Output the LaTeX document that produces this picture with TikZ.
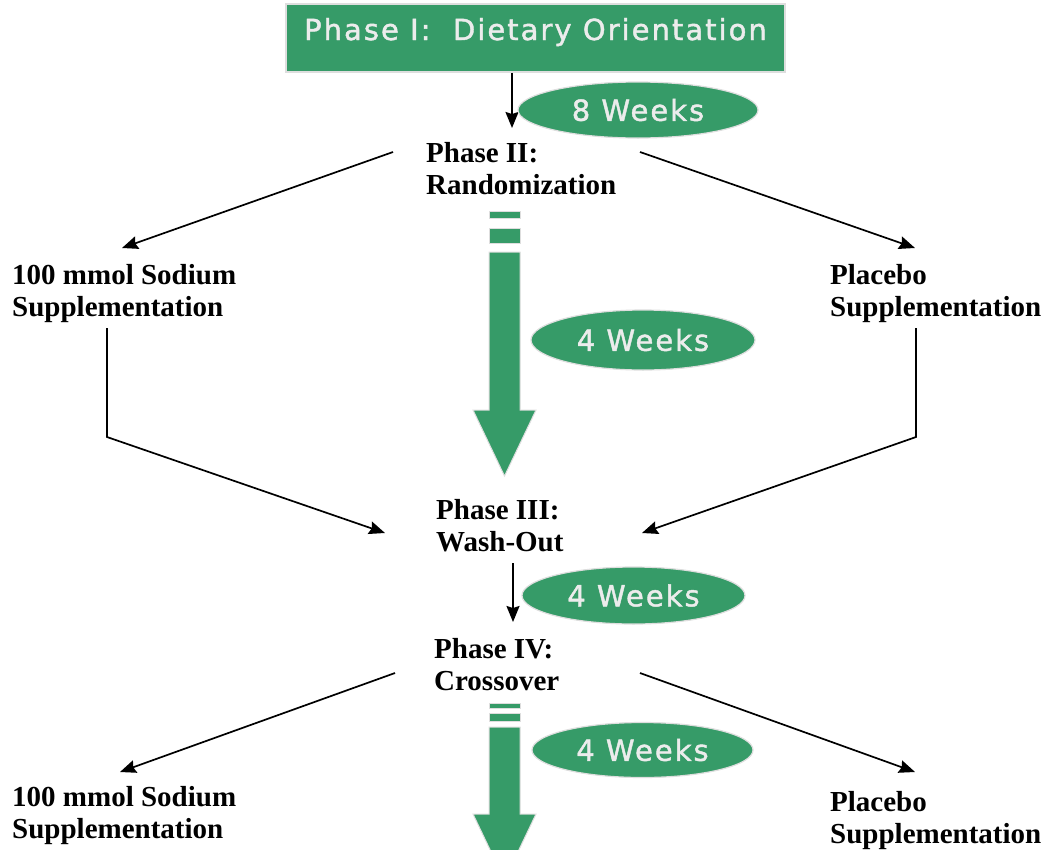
\documentclass[tikz,border=0pt]{standalone}
\usepackage{fontspec}
\setmainfont{Liberation Serif}
\newfontfamily\vsans[LetterSpace=7,FakeBold=1.5]{DejaVu Sans}
\usetikzlibrary{shapes.geometric,arrows.meta}
\definecolor{grn}{RGB}{54,155,104}
\definecolor{ltxt}{RGB}{236,236,236}
\definecolor{rim}{RGB}{222,222,222}
\tikzset{
 lbl/.style={font=\bfseries\fontsize{29}{32.5}\selectfont, align=left, inner sep=0pt, anchor=north west},
 pill/.style={ellipse, fill=grn, draw=rim, line width=1.2pt, inner sep=0pt, text=ltxt, font=\vsans\fontsize{29}{29}\selectfont},
 conn/.style={line width=1.7pt, -{Stealth[length=16pt,width=13pt,inset=2pt]}},
 bigarrow/.style={fill=grn, draw=rim, line width=1pt},
 titlebox/.style={rectangle, fill=grn, draw=rim, line width=1.5pt, minimum width=499pt, minimum height=68pt, inner sep=0pt, text=ltxt, text height=22pt, text depth=18pt, font=\vsans\fontsize{29}{29}\selectfont}
}
\begin{document}
\begin{tikzpicture}[x=1pt,y=-1pt]
\useasboundingbox (0,0) rectangle (1047,849);
\clip (0,0) rectangle (1047,849);
\fill[white] (0,0) rectangle (1047,849);

% title
\node[titlebox] (p1) at (535.5,38) {Phase I:\ \ Dietary Orientation};

% labels
\node[lbl] (p2) at (426,142) {Phase II:\\Randomization};
\node[lbl] (na1) at (12,264) {100 mmol Sodium\\Supplementation};
\node[lbl] (pl1) at (830,264) {Placebo\\Supplementation};
\node[lbl] (p3) at (436,499) {Phase III:\\Wash-Out};
\node[lbl] (p4) at (434,638) {Phase IV:\\Crossover};
\node[lbl] (na2) at (12,786) {100 mmol Sodium\\Supplementation};
\node[lbl] (pl2) at (830,791) {Placebo\\Supplementation};

% coordinates of free ends
\coordinate (t1) at (512,128);
\coordinate (a2l) at (393,152);
\coordinate (b2l) at (122,248);
\coordinate (a2r) at (640,152);
\coordinate (b2r) at (915,248);
\coordinate (l1) at (107,328);
\coordinate (l2) at (107,437);
\coordinate (l3) at (385,533);
\coordinate (r1) at (916,328);
\coordinate (r2) at (916,437);
\coordinate (r3) at (642,533);
\coordinate (w0) at (513,563);
\coordinate (w9) at (513,622);
\coordinate (a4l) at (395,673);
\coordinate (b4l) at (120,772);
\coordinate (a4r) at (640,673);
\coordinate (b4r) at (915,772);

% connectors
\draw[conn] (p1.south -| t1) -- (t1);
\draw[conn] (a2l) -- (b2l);
\draw[conn] (a2r) -- (b2r);
\draw[conn] (l1) -- (l2) -- (l3);
\draw[conn] (r1) -- (r2) -- (r3);
\draw[conn] (w0) -- (w9);
\draw[conn] (a4l) -- (b4l);
\draw[conn] (a4r) -- (b4r);

% big green arrows
\draw[bigarrow] (489,211) rectangle (520,218);
\draw[bigarrow] (489,228) rectangle (520,243);
\draw[bigarrow] (489,252) -- (520,252) -- (520,410) -- (536,410) -- (504.5,476) -- (473,410) -- (489,410) -- cycle;

\draw[bigarrow] (489,703) rectangle (520,708);
\draw[bigarrow] (489,713) rectangle (520,721);
\draw[bigarrow] (489,727) -- (520,727) -- (520,814) -- (536,814) -- (504.5,880) -- (473,814) -- (489,814) -- cycle;

% week pills
\node[pill, minimum width=240pt, minimum height=56pt] (w1) at (638,110) {8 Weeks};
\node[pill, minimum width=224pt, minimum height=60pt] (w2) at (643,340) {4 Weeks};
\node[pill, minimum width=223pt, minimum height=57pt] (w3) at (633.5,595.5) {4 Weeks};
\node[pill, minimum width=221pt, minimum height=55pt] (w4) at (642.5,750) {4 Weeks};
\end{tikzpicture}
\end{document}
